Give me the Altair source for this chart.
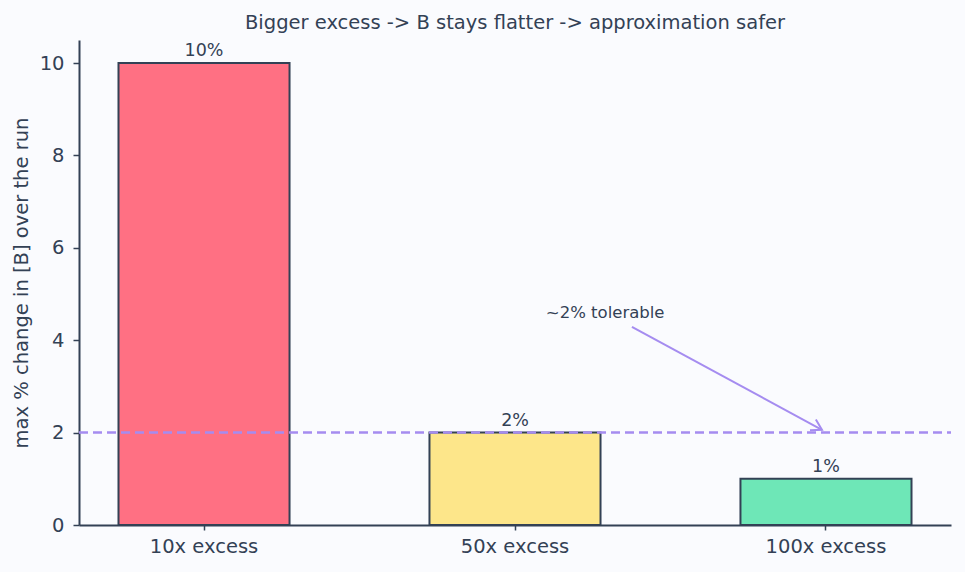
import math
import altair as alt
import pandas as pd

# Bars
categories = ["10x excess", "50x excess", "100x excess"]
max_change = [10, 2, 1]
bar_labels = ["10%", "2%", "1%"]
bar_colors = ["#ff7083", "#fde68a", "#6ee7b7"]

# Tolerance threshold and its annotation
threshold = 2
note_text = "~2% tolerable"
note_pos = (1.29, 4.59)          # (category index, value)
arrow_from = (1.376, 4.29)
arrow_to = (1.987, 2.06)

W, H = 872, 485
Y_MAX = 10.5
PAD_OUTER = 0.127
PAD_INNER = 0.45
# linear extent that lines up with the band centres (index units)
edge = PAD_OUTER + (1 - PAD_INNER) / 2
x_lin = [-edge, 2 + edge]

INK = "#334155"
VIOLET = "#a58cf0"
FONT = "DejaVu Sans"

bars_df = pd.DataFrame({"cat": categories, "val": max_change,
                        "label": bar_labels, "color": bar_colors})

xb = alt.X("cat:N", sort=categories, title=None,
           scale=alt.Scale(paddingInner=PAD_INNER, paddingOuter=PAD_OUTER),
           axis=alt.Axis(labelAngle=0, labelFontSize=19.5, labelColor=INK,
                         labelPadding=7, tickSize=5, tickColor=INK, tickWidth=1.5,
                         domainColor=INK, domainWidth=2, labelFont=FONT))
yq = alt.Y("val:Q", title="max % change in [B] over the run",
           scale=alt.Scale(domain=[0, Y_MAX], nice=False),
           axis=alt.Axis(values=[0, 2, 4, 6, 8, 10], grid=False, labelFontSize=19.5,
                         labelColor=INK, tickSize=6, tickColor=INK, tickWidth=1.5,
                         domainColor=INK, domainWidth=2, labelPadding=9,
                         titleFontSize=19.5, titleColor=INK, titleFontWeight="normal",
                         titleFont=FONT, labelFont=FONT, titlePadding=8))

base = alt.Chart(bars_df)
bars = base.mark_bar(stroke=INK, strokeWidth=2).encode(
    x=xb, y=yq, color=alt.Color("color:N", scale=None))
labels = base.mark_text(baseline="bottom", dy=-3, fontSize=17.5, color=INK, font=FONT).encode(
    x=alt.X("cat:N", sort=categories), y="val:Q", text="label:N")

rule = alt.Chart(pd.DataFrame({"val": [threshold]})).mark_rule(
    color=VIOLET, strokeWidth=2.5, strokeDash=[9, 5]).encode(
    y="val:Q", x=alt.value(0), x2=alt.value(W))

bar_layer = alt.layer(bars, labels, rule)

# annotation layer on a linear x scale aligned with the bands
xs = alt.Scale(domain=x_lin, nice=False, zero=False)
note_df = pd.DataFrame({"x": [note_pos[0]], "val": [note_pos[1]], "t": [note_text]})
note = alt.Chart(note_df).mark_text(fontSize=16.5, color=INK, font=FONT).encode(
    x=alt.X("x:Q", scale=xs, axis=None), y="val:Q", text="t:N")

shaft_df = pd.DataFrame({"x": [arrow_from[0]], "val": [arrow_from[1]],
                         "x2": [arrow_to[0]], "val2": [arrow_to[1]]})
shaft = alt.Chart(shaft_df).mark_rule(color=VIOLET, strokeWidth=2).encode(
    x=alt.X("x:Q", scale=xs, axis=None), y="val:Q", x2="x2:Q", y2="val2:Q")

px_per_x = W / (x_lin[1] - x_lin[0])
px_per_y = H / Y_MAX
ang = math.degrees(math.atan2((arrow_from[1] - arrow_to[1]) * px_per_y,
                              (arrow_to[0] - arrow_from[0]) * px_per_x))
head_df = pd.DataFrame({"x": [arrow_to[0]], "val": [arrow_to[1]]})
head = alt.Chart(head_df).mark_point(
    shape="M-1,-0.6L0,0L-1,0.6", filled=False, size=420, angle=ang,
    stroke=VIOLET, strokeWidth=2, opacity=1).encode(
    x=alt.X("x:Q", scale=xs, axis=None), y="val:Q")

note_layer = alt.layer(note, shaft, head)

chart = alt.layer(bar_layer, note_layer).resolve_scale(
    x="independent").properties(
    width=W, height=H,
    title=alt.TitleParams("Bigger excess -> B stays flatter -> approximation safer",
                          fontSize=19.5, fontWeight="normal", color=INK, font=FONT,
                          offset=7),
    autosize=alt.AutoSizeParams(type="none"),
    padding={"left": 79, "top": 40, "right": 14, "bottom": 47},
    background="#fafbfe",
).configure_view(stroke=None)

chart.save("out.html", embed_options={"renderer": "svg", "actions": False})
